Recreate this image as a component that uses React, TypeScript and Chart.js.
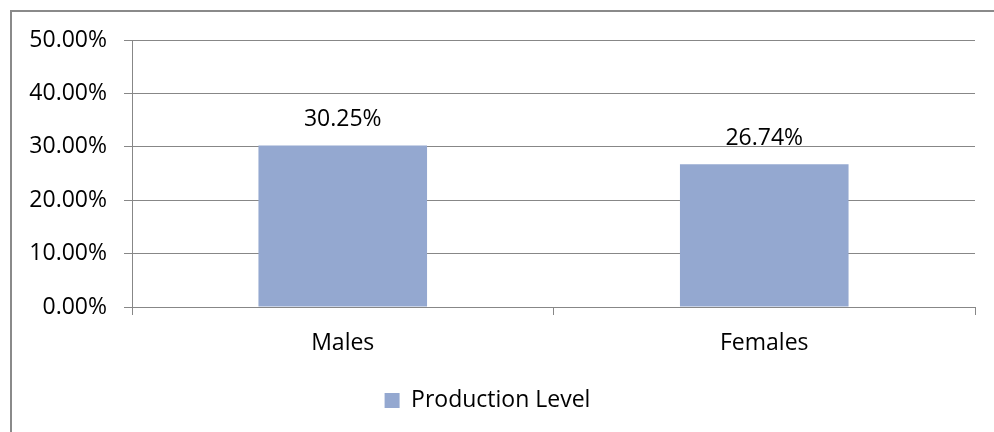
import React, { useEffect, useRef } from "react";
import { Chart, registerables } from "chart.js";

Chart.register(...registerables);

const categories = ["Males", "Females"];
const seriesName = "Production Level";
const values = [30.25, 26.74];
const yTicks = [0, 10, 20, 30, 40, 50];

const FONT = "'Open Sans', 'Noto Sans', sans-serif";
const GRID = "#878787";
const BAR = "#94a8d0";

const frame = {
  id: "frame",
  beforeDraw(chart: any) {
    const ctx = chart.ctx;
    ctx.save();
    ctx.strokeStyle = "#8a8a8a";
    ctx.lineWidth = 2;
    ctx.strokeRect(11, 11, 1100, 1100);
    ctx.restore();
  },
};

const dataLabels = {
  id: "dataLabels",
  afterDatasetsDraw(chart: any) {
    const ctx = chart.ctx;
    ctx.save();
    ctx.font = `23px ${FONT}`;
    ctx.fillStyle = "#000";
    ctx.textAlign = "center";
    ctx.textBaseline = "middle";
    chart.data.datasets.forEach((ds: any, di: number) => {
      const meta = chart.getDatasetMeta(di);
      meta.data.forEach((el: any, i: number) => {
        ctx.fillText(Number(ds.data[i]).toFixed(2) + "%", el.x, el.y - 26);
      });
    });
    ctx.restore();
  },
};

export default function App() {
  const ref = useRef<HTMLCanvasElement | null>(null);
  useEffect(() => {
    document.body.style.margin = "0";
    const chart = new Chart(ref.current as HTMLCanvasElement, {
      type: "bar",
      data: {
        labels: categories,
        datasets: [
          {
            label: seriesName,
            data: values,
            backgroundColor: BAR,
            borderWidth: 0,
            barPercentage: 0.4,
            categoryPercentage: 1,
          },
        ],
      },
      options: {
        animation: false,
        responsive: false,
        devicePixelRatio: 1,
        layout: { padding: { left: 0, top: 40, right: 19, bottom: 10 } },
        plugins: {
          legend: {
            position: "bottom",
            labels: {
              boxWidth: 15,
              boxHeight: 15,
              padding: 10,
              color: "#000",
              font: { family: FONT, size: 23 },
            },
          },
          tooltip: { enabled: false },
        },
        scales: {
          x: {
            grid: {
              offset: true,
              drawOnChartArea: false,
              drawTicks: true,
              tickLength: 8,
              color: GRID,
            },
            border: { display: true, color: GRID, width: 1 },
            ticks: {
              padding: 15,
              color: "#000",
              font: { family: FONT, size: 23 },
            },
            afterFit(scale: any) {
              scale.height = 72;
            },
          },
          y: {
            min: 0,
            max: 50,
            afterBuildTicks(scale: any) {
              scale.ticks = yTicks.map((v) => ({ value: v }));
            },
            grid: {
              color: GRID,
              tickLength: 8,
              drawTicks: true,
            },
            border: { display: true, color: GRID, width: 1 },
            ticks: {
              padding: 17,
              color: "#000",
              font: { family: FONT, size: 23 },
              callback: (v: any) => Number(v).toFixed(2) + "%",
            },
            afterFit(scale: any) {
              scale.width = 132;
            },
          },
        },
      },
      plugins: [frame, dataLabels],
    });
    return () => chart.destroy();
  }, []);
  return (
    <div style={{ width: 994, height: 432, background: "#fff" }}>
      <canvas ref={ref} width={994} height={432} style={{ display: "block" }} />
    </div>
  );
}
